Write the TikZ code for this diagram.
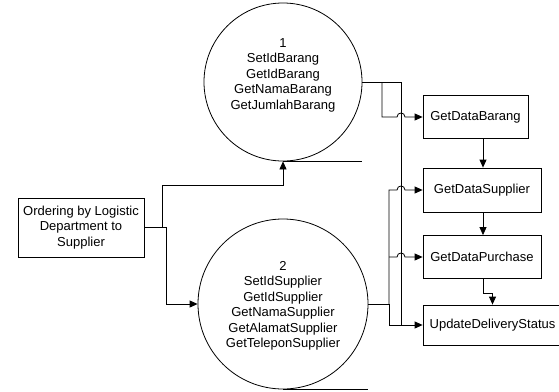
\documentclass[tikz,border=0pt]{standalone}
\usepackage{fontspec}
\setmainfont{Liberation Sans}
\usetikzlibrary{arrows.meta}
\begin{document}
\begin{tikzpicture}[x=1pt, y=-1pt, line width=0.8pt,
  proc/.style={draw, circle, inner sep=0pt},
  entity/.style={draw, rectangle, inner sep=0pt},
  lbl/.style={align=center, font=\fontsize{13}{15.5}\selectfont},
  flow/.style={-{Triangle[length=8pt,width=7pt]}},
]
\useasboundingbox (0,0) rectangle (559,391);
\clip (0,0) rectangle (559,391);

% processes
\node[proc, minimum size=158pt] (c1) at (283,82) {};
\node[lbl] (t1) at (283,75) {1\\SetIdBarang\\GetIdBarang\\GetNamaBarang\\GetJumlahBarang};
\node[proc, minimum size=170pt] (c2) at (283,304) {};
\node[lbl] (t2) at (283,306) {2\\SetIdSupplier\\GetIdSupplier\\GetNamaSupplier\\GetAlamatSupplier\\GetTeleponSupplier};

% external entity
\node[entity, lbl, minimum width=126pt, minimum height=59pt] (ord) at (81,227.5)
  {Ordering by Logistic\\Department to\\Supplier};

% operations
\node[entity, lbl, minimum width=105pt, minimum height=43pt] (b1) at (475.5,117) {GetDataBarang};
\node[entity, lbl, minimum width=118pt, minimum height=44pt] (b2) at (482,190) {GetDataSupplier};
\node[entity, lbl, minimum width=118pt, minimum height=43pt] (b3) at (482,257) {GetDataPurchase};
\node[entity, lbl, minimum width=139pt, minimum height=40pt] (b4) at (492.5,325) {UpdateDeliveryStatus};

% bus positions
\coordinate (busA) at (401,82);
\coordinate (busA2) at (401,325);
\coordinate (tapA) at (382,82);
\coordinate (busB) at (389,304);
\coordinate (busB2) at (389,325);
\coordinate (tapB) at (389,257);
\coordinate (x483) at (483,0);

% entity to processes
\draw[flow] (ord.east) -| (162,185) -| (c1.south);
\draw[flow] (ord.east) -| (166,304) -- (c2.west);

% base lines under the processes
\draw (c1.south) -- ++(79,0);
\draw (c2.south) -- ++(85,0);

% process 1 outputs
\draw (c1.east) -- (busA) -- (busA2);
\draw[flow] (tapA) |- (397,117) .. controls (397,111.7) and (405,111.7) .. (405,117) -- (b1.west);

% process 2 outputs
\draw (c2.east) -- (busB);
\draw[flow] (busB) |- (397,190) .. controls (397,184.7) and (405,184.7) .. (405,190) -- (b2.west);
\draw[flow] (tapB) -- (397,257) .. controls (397,251.7) and (405,251.7) .. (405,257) -- (b3.west);
\draw[flow] (busB) -- (busB2) -- (b4.west);

% chain between operations
\draw[flow] (b1.south -| x483) -- (b2.north -| x483);
\draw[flow] (b2.south -| x483) -- (b3.north -| x483);
\draw[flow] (b3.south -| x483) -- ++(0,14) -| (b4.north);
\end{tikzpicture}
\end{document}
